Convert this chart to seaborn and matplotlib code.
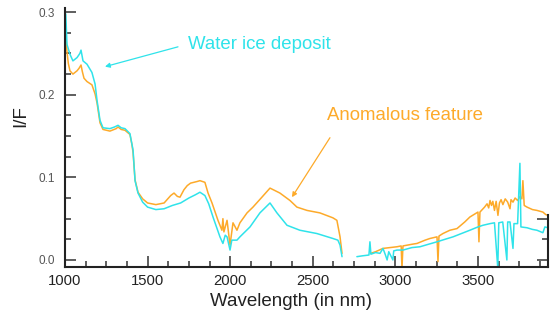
import matplotlib
matplotlib.use("Agg")
import matplotlib.pyplot as plt
from matplotlib.ticker import MultipleLocator, FormatStrFormatter
import pandas as pd
import seaborn as sns

ICE = "Water ice deposit"
ANOM = "Anomalous feature"
CYAN = "#2fe3ea"
ORANGE = "#fdaa2a"

# short-wave part of each spectrum (before the gap near 2700 nm)
ice_wl_1 = [1000, 1005, 1012, 1030, 1048, 1073, 1090, 1097, 1109, 1133, 1163, 1182,
            1194, 1212, 1230, 1272, 1300, 1321, 1340, 1363, 1393, 1412, 1424, 1442,
            1470, 1500, 1550, 1600, 1650, 1700, 1750, 1790, 1817, 1847, 1870, 1896,
            1938, 1956, 1970, 1981, 1999, 2010, 2041, 2059, 2120, 2180, 2241, 2283,
            2344, 2422, 2525, 2622, 2652, 2665, 2677]
ice_if_1 = [0.300, 0.297, 0.261, 0.249, 0.241, 0.245, 0.250, 0.254, 0.241, 0.237, 0.227, 0.213,
            0.193, 0.169, 0.160, 0.159, 0.161, 0.163, 0.160, 0.159, 0.153, 0.133, 0.096, 0.081,
            0.070, 0.064, 0.061, 0.062, 0.066, 0.069, 0.075, 0.079, 0.082, 0.078, 0.068, 0.052,
            0.028, 0.020, 0.030, 0.028, 0.012, 0.024, 0.024, 0.028, 0.040, 0.057, 0.069, 0.057,
            0.042, 0.036, 0.032, 0.026, 0.024, 0.018, 0.004]

anom_wl_1 = [1000, 1005, 1012, 1020, 1030, 1048, 1073, 1085, 1097, 1105, 1115, 1133,
             1163, 1182, 1194, 1212, 1230, 1272, 1310, 1321, 1340, 1363, 1393, 1405,
             1412, 1424, 1442, 1470, 1500, 1550, 1600, 1640, 1660, 1680, 1696, 1720,
             1740, 1760, 1800, 1817, 1847, 1866, 1890, 1926, 1950, 1956, 1962, 1981,
             1999, 2017, 2041, 2059, 2102, 2138, 2192, 2241, 2301, 2362, 2404, 2465,
             2543, 2622, 2646, 2665, 2677]
anom_if_1 = [0.285, 0.272, 0.252, 0.238, 0.229, 0.225, 0.229, 0.232, 0.236, 0.228, 0.220, 0.216,
             0.212, 0.201, 0.190, 0.166, 0.158, 0.156, 0.159, 0.161, 0.158, 0.157, 0.152, 0.140,
             0.130, 0.097, 0.082, 0.074, 0.069, 0.067, 0.069, 0.078, 0.081, 0.077, 0.076, 0.085,
             0.090, 0.093, 0.095, 0.096, 0.094, 0.081, 0.069, 0.048, 0.036, 0.050, 0.034, 0.048,
             0.018, 0.045, 0.036, 0.045, 0.057, 0.064, 0.076, 0.087, 0.081, 0.072, 0.064, 0.060,
             0.057, 0.051, 0.048, 0.028, 0.008]

# long-wave part
ice_wl_2 = [2767, 2800, 2840, 2846, 2852, 2880, 2907, 2925, 2940, 2950, 2960, 2985,
            2990, 3010, 3046, 3100, 3149, 3200, 3252, 3300, 3349, 3400, 3451, 3500,
            3530, 3573, 3600, 3620, 3626, 3650, 3675, 3680, 3694, 3712, 3718, 3740,
            3754, 3760, 3797, 3830, 3857, 3893, 3905, 3924]
ice_if_2 = [0.004, 0.005, 0.006, 0.022, 0.007, 0.009, 0.008, 0.014, 0.006, 0.000, 0.010, 0.000,
            0.011, 0.012, 0.012, 0.015, 0.016, 0.019, 0.022, 0.025, 0.028, 0.032, 0.036, 0.040,
            0.042, 0.044, 0.045, -0.010, 0.045, 0.046, 0.000, 0.046, 0.046, 0.014, 0.044, 0.044,
            0.117, 0.040, 0.039, 0.037, 0.036, 0.033, 0.040, 0.039]

anom_wl_2 = [2850, 2880, 2925, 2967, 3010, 3035, 3040, 3046, 3100, 3131, 3180, 3209,
             3252, 3258, 3264, 3288, 3330, 3373, 3420, 3451, 3500, 3506, 3512, 3540,
             3555, 3565, 3573, 3582, 3590, 3600, 3610, 3621, 3630, 3640, 3651, 3665,
             3680, 3694, 3700, 3712, 3725, 3740, 3755, 3766, 3772, 3780, 3797, 3830,
             3857, 3893, 3910, 3924]
anom_if_2 = [0.008, 0.010, 0.014, 0.015, 0.016, 0.017, -0.010, 0.017, 0.019, 0.020, 0.024, 0.026,
             0.028, -0.002, 0.029, 0.032, 0.036, 0.038, 0.046, 0.052, 0.058, 0.022, 0.058, 0.064,
             0.068, 0.063, 0.072, 0.066, 0.071, 0.060, 0.071, 0.054, 0.069, 0.073, 0.067, 0.074,
             0.070, 0.062, 0.073, 0.070, 0.075, 0.072, 0.077, 0.074, 0.096, 0.066, 0.064, 0.061,
             0.060, 0.058, 0.055, 0.054]

parts = [
    (ANOM, 1, anom_wl_1, anom_if_1),
    (ANOM, 2, anom_wl_2, anom_if_2),
    (ICE, 1, ice_wl_1, ice_if_1),
    (ICE, 2, ice_wl_2, ice_if_2),
]
frames = []
for name, seg, wl, val in parts:
    frames.append(pd.DataFrame({"wavelength": wl, "I/F": val,
                                "spectrum": name, "segment": f"{name}-{seg}"}))
df = pd.concat(frames, ignore_index=True)

sns.set_theme(style="ticks")
plt.rcParams["font.family"] = ["Liberation Sans", "DejaVu Sans"]

fig = plt.figure(figsize=(5.5, 3.15), dpi=100)
ax = fig.add_axes([65 / 550, 1 - 267 / 315, 483 / 550, 259 / 315])

sns.lineplot(data=df, x="wavelength", y="I/F", hue="spectrum", units="segment",
             estimator=None, sort=False, hue_order=[ANOM, ICE],
             palette={ICE: CYAN, ANOM: ORANGE}, lw=1.1, legend=False, ax=ax)

ylow, yhigh = -0.0085, 0.305
ax.set_xlim(1000, 3924)
ax.set_ylim(ylow, yhigh)
ax.xaxis.set_major_locator(MultipleLocator(500))
ax.xaxis.set_minor_locator(MultipleLocator(125))
ax.yaxis.set_major_locator(MultipleLocator(0.1))
ax.yaxis.set_minor_locator(MultipleLocator(0.025))
ax.yaxis.set_major_formatter(FormatStrFormatter("%.1f"))

for side in ["left", "bottom"]:
    ax.spines[side].set_linewidth(1.5)
    ax.spines[side].set_color("#222222")
ax.spines["top"].set_visible(False)
ax.spines["right"].set_visible(False)

ax.tick_params(axis="both", which="both", direction="in", color="#333333", width=1.1)
ax.tick_params(axis="both", which="major", length=8)
ax.tick_params(axis="both", which="minor", length=4.5)
ax.tick_params(axis="x", which="major", labelsize=10.7, pad=5, labelcolor="#222222")
ax.tick_params(axis="y", which="major", labelsize=8.5, pad=7, labelcolor="#555555")

# short piece of right frame, only visible near the bottom
ax2 = ax.twinx()
ax2.set_ylim(ylow, yhigh)
ax2.set_yticks([0.0, 0.05])
ax2.set_yticks([0.025], minor=True)
ax2.set_yticklabels([])
for side in ["left", "top", "bottom"]:
    ax2.spines[side].set_visible(False)
ax2.spines["right"].set_linewidth(1.5)
ax2.spines["right"].set_color("#222222")
ax2.spines["right"].set_bounds(ylow, 0.054)
ax2.tick_params(axis="y", which="both", direction="in", color="#333333", width=1.1)
ax2.tick_params(axis="y", which="major", length=8)
ax2.tick_params(axis="y", which="minor", length=4.5)

ax.set_xlabel("Wavelength (in nm)", fontsize=13.5, color="#222222")
ax.xaxis.set_label_coords((291 - 65) / 483, -0.1)
ax.set_ylabel("I/F", fontsize=13.5, color="#222222")
ax.yaxis.set_label_coords(-0.075, 0.583)

ax.text(1745, 0.261, ICE, color=CYAN, fontsize=13.4, ha="left", va="center")
ax.annotate("", xy=(1242, 0.234), xytext=(1684, 0.258),
            arrowprops=dict(arrowstyle="-|>", color=CYAN, lw=0.9, mutation_scale=7,
                            shrinkA=0, shrinkB=0))
ax.text(2586, 0.175, ANOM, color=ORANGE, fontsize=13.4, ha="left", va="center")
ax.annotate("", xy=(2374, 0.076), xytext=(2604, 0.148),
            arrowprops=dict(arrowstyle="-|>", color=ORANGE, lw=0.9, mutation_scale=7,
                            shrinkA=0, shrinkB=0))

fig.savefig("out.png", dpi=100)
